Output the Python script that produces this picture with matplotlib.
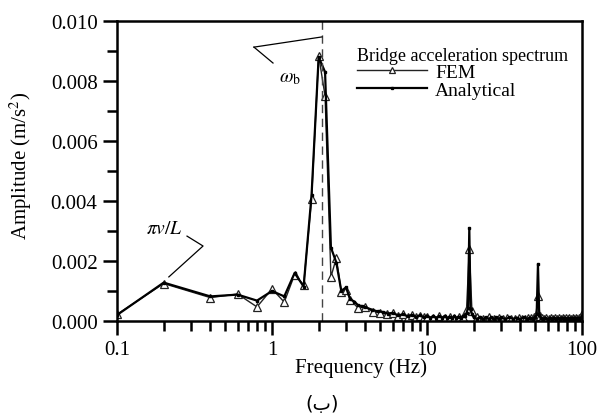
import matplotlib
matplotlib.use('Agg')
import matplotlib.pyplot as plt
from matplotlib.ticker import MultipleLocator, FuncFormatter, LogLocator

plt.rcParams['font.family'] = ['Liberation Serif', 'DejaVu Sans']
plt.rcParams['mathtext.fontset'] = 'stix'

# analytical spectrum (Hz, m/s2)
freq_analytical = [0.1, 0.2, 0.4, 0.6, 0.8, 1.0, 1.2, 1.4, 1.6, 1.8, 2.0, 2.2, 2.4, 2.6, 2.8,
                   3.0, 3.2, 3.4, 3.6, 3.8, 4.0, 4.4, 4.8, 5.2, 5.6, 6.0, 6.5, 7.0, 7.5, 8.0,
                   8.5, 9.0, 9.5, 10, 10.5, 11, 11.5, 12, 12.5, 13, 13.5, 14, 14.5, 15, 15.5,
                   16, 16.5, 17, 17.5, 18, 18.4, 18.75, 19.1, 19.5, 20, 21, 22, 23, 24, 25,
                   26, 27, 28, 29, 30, 32, 34, 36, 38, 40, 42, 44, 46, 48, 50, 51, 52, 53,
                   54, 56, 58, 60, 62, 64, 66, 68, 70, 72, 74, 76, 78, 80, 82, 84, 86, 88,
                   90, 92, 94, 96, 98, 100]
amp_analytical = [0.00020, 0.00128, 0.00082, 0.00088, 0.00068, 0.00100, 0.00082, 0.00160,
                  0.00115, 0.00420, 0.00880, 0.00830, 0.00245, 0.00195, 0.00100, 0.00112,
                  0.00072, 0.00065, 0.00052, 0.00050, 0.00046, 0.00038, 0.00032, 0.00030,
                  0.00025, 0.00027, 0.00019, 0.00022, 0.00016, 0.00020, 0.00014, 0.00019,
                  0.00012, 0.00018, 0.00011, 0.00017, 0.00010, 0.00016, 0.00011, 0.00017,
                  0.00010, 0.00015, 0.00009, 0.00016, 0.00010, 0.00015, 0.00009, 0.00016,
                  0.00018, 0.00026, 0.00045, 0.00310, 0.00040, 0.00024, 0.00012, 0.00007,
                  0.00014, 0.00006, 0.00013, 0.00007, 0.00012, 0.00006, 0.00013, 0.00007,
                  0.00012, 0.00006, 0.00012, 0.00007, 0.00011, 0.00006, 0.00012, 0.00007,
                  0.00011, 0.00008, 0.00014, 0.00022, 0.00190, 0.00020, 0.00010, 0.00006,
                  0.00011, 0.00006, 0.00010, 0.00006, 0.00011, 0.00006, 0.00010, 0.00006,
                  0.00011, 0.00006, 0.00010, 0.00006, 0.00011, 0.00006, 0.00010, 0.00006,
                  0.00011, 0.00006, 0.00010, 0.00007, 0.00011, 0.00018]

# FEM spectrum
freq_fem = [0.1, 0.2, 0.4, 0.6, 0.8, 1.0, 1.2, 1.4, 1.6, 1.8, 2.0, 2.2, 2.4, 2.6, 2.8, 3.0,
            3.2, 3.6, 4.0, 4.5, 5.0, 5.5, 6.0, 6.5, 7.0, 7.5, 8.0, 8.5, 9.0, 9.5, 10, 11, 12,
            13, 14, 15, 16, 17, 18, 18.75, 19.5, 21, 23, 25, 27, 29, 31, 33, 35, 37, 39, 41,
            43, 45, 47, 49, 50.5, 52, 53.5, 55, 57, 59, 61, 63, 65, 67, 69, 71, 73, 75, 77,
            79, 81, 83, 85, 87, 89, 91, 93, 95, 97, 99, 100]
amp_fem = [0.00022, 0.00125, 0.00078, 0.00090, 0.00047, 0.00107, 0.00063, 0.00155, 0.00120,
           0.00407, 0.00885, 0.00750, 0.00147, 0.00210, 0.00097, 0.00105, 0.00070, 0.00043,
           0.00048, 0.00030, 0.00028, 0.00022, 0.00026, 0.00018, 0.00022, 0.00015, 0.00019,
           0.00013, 0.00017, 0.00012, 0.00015, 0.00011, 0.00016, 0.00010, 0.00014, 0.00011,
           0.00015, 0.00012, 0.00040, 0.00240, 0.00035, 0.00012, 0.00008, 0.00012, 0.00007,
           0.00011, 0.00007, 0.00011, 0.00008, 0.00007, 0.00011, 0.00008, 0.00007, 0.00010,
           0.00009, 0.00012, 0.00020, 0.00083, 0.00018, 0.00010, 0.00007, 0.00010, 0.00007,
           0.00009, 0.00007, 0.00010, 0.00007, 0.00009, 0.00007, 0.00010, 0.00007, 0.00009,
           0.00007, 0.00010, 0.00007, 0.00009, 0.00007, 0.00010, 0.00007, 0.00009, 0.00008,
           0.00012, 0.00024]

bridge_freq = 2.1

fig = plt.figure(figsize=(6.11, 4.14), dpi=100)
ax = fig.add_axes([0.1915, 0.2222, 0.761, 0.7246])

ax.plot(freq_fem, amp_fem, color='#222222', lw=1.0, marker='^', ms=6,
        mfc='white', mec='#222222', mew=0.9, label='FEM')
ax.plot(freq_analytical, amp_analytical, color='black', lw=1.6, marker='s', ms=2,
        mfc='black', mec='black', label='Analytical')
ax.axvline(bridge_freq, color='#444444', lw=1.0, ls=(0, (6, 4)))

ax.set_xscale('log')
ax.set_xlim(0.1, 100)
ax.set_ylim(0, 0.010)
ax.yaxis.set_major_locator(MultipleLocator(0.002))
ax.yaxis.set_minor_locator(MultipleLocator(0.001))
ax.yaxis.set_major_formatter(FuncFormatter(lambda v, p: '%.3f' % v))
ax.xaxis.set_major_locator(LogLocator(base=10))
ax.xaxis.set_minor_locator(LogLocator(base=10, subs=range(2, 10)))
ax.xaxis.set_major_formatter(FuncFormatter(lambda v, p: '%g' % v))
ax.tick_params(which='major', direction='out', length=10, width=1.8, labelsize=15, pad=4)
ax.tick_params(which='minor', direction='out', length=7, width=1.8)
ax.tick_params(top=False, right=False, which='both')
for s in ax.spines.values():
    s.set_linewidth(1.8)

ax.set_xlabel('Frequency (Hz)', fontsize=15)
ax.set_ylabel('Amplitude (m/s$^2$)', fontsize=15)
ax.xaxis.set_label_coords(0.525, -0.12)
ax.yaxis.set_label_coords(-0.178, 0.52)

# labels with leader lines
ax.plot([0.765, 2.10], [0.00913, 0.00947], color='black', lw=0.9)
ax.plot([0.765, 1.015], [0.00913, 0.0086], color='black', lw=0.9)
ax.text(1.31, 0.00813, r'$\omega_{\rm b}$', fontsize=14, ha='center', va='center')
ax.plot([0.283, 0.359, 0.216], [0.00283, 0.0025, 0.00147], color='black', lw=0.9)
ax.text(0.201, 0.00307, r'$\pi v/L$', fontsize=14, ha='center', va='center')

leg = ax.legend(loc='upper right', bbox_to_anchor=(1.0, 0.96), frameon=False,
                title='Bridge acceleration spectrum', title_fontsize=13, fontsize=14,
                handlelength=3.6, handletextpad=0.4, labelspacing=0.0, borderpad=0.2,
                markerscale=0.7, alignment='left')

fig.text(0.527, 0.0, '(\u0628)', fontsize=14, ha='center', va='bottom',
         family=['DejaVu Sans'])

fig.savefig('out.png', dpi=100)
